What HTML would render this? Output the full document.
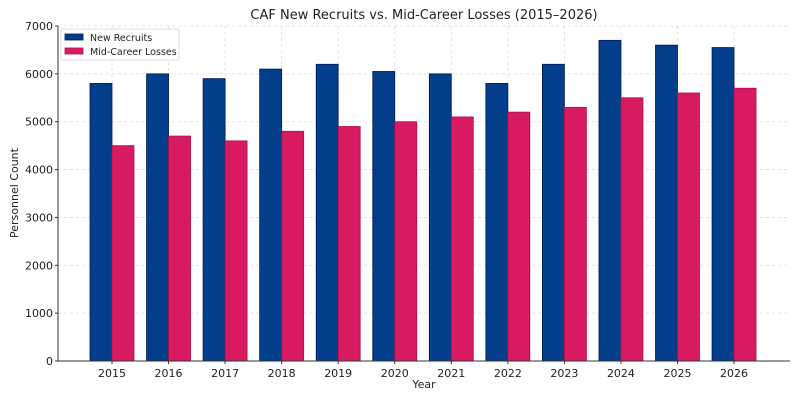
<!DOCTYPE html>
<html><head><meta charset="utf-8"><style>
body{margin:0;background:#fff;font-family:"DejaVu Sans","Liberation Sans",sans-serif}
svg text{font-family:"DejaVu Sans","Liberation Sans",sans-serif;fill:#222}
</style></head><body>
<svg id="c" width="800" height="400"></svg>
<script>
const years=["2015","2016","2017","2018","2019","2020","2021","2022","2023","2024","2025","2026"];
const recruits=[5800,6000,5900,6100,6200,6050,6000,5800,6200,6700,6600,6550];
const losses=[4500,4700,4600,4800,4900,5000,5100,5200,5300,5500,5600,5700];
const yTicks=[0,1000,2000,3000,4000,5000,6000,7000];
const NS="http://www.w3.org/2000/svg";
const svg=document.getElementById('c');
const L=58,R=790,T=26,B=361,x0=112,step=56.55,bw=22;
const y=v=>B-(v/7000)*(B-T);
const x=i=>x0+i*step;
function mk(t,a,p){const e=document.createElementNS(NS,t);for(const k in a)e.setAttribute(k,a[k]);(p||svg).appendChild(e);return e;}
const g=mk('g',{});
yTicks.forEach(v=>{if(v>0)mk('line',{x1:L,x2:R,y1:y(v),y2:y(v),stroke:'#ddd','stroke-dasharray':'3,3','stroke-width':0.8},g);});
years.forEach((yr,i)=>mk('line',{x1:x(i),x2:x(i),y1:T,y2:B,stroke:'#ddd','stroke-dasharray':'3,3','stroke-width':0.8},g));
years.forEach((yr,i)=>{
 const a=mk('rect',{x:x(i)-bw,y:y(recruits[i]),width:bw,height:B-y(recruits[i]),fill:'#023e8a',stroke:'#001a5c','stroke-width':0.8});
 
 
 const b=mk('rect',{x:x(i),y:y(losses[i]),width:bw,height:B-y(losses[i]),fill:'#d81b60',stroke:'#b0104a','stroke-width':0.8});
 
 
 const t=mk('text',{x:x(i),y:B+16,'text-anchor':'middle','font-size':11});t.textContent=yr;
 
 
 mk('line',{x1:x(i),x2:x(i),y1:B,y2:B+3,stroke:'#333'});
});
yTicks.forEach(v=>{
 mk('line',{x1:L-3,x2:L,y1:y(v),y2:y(v),stroke:'#333'});
 const t=mk('text',{x:L-5,y:y(v)+4,'text-anchor':'end','font-size':11});t.textContent=v;
 
 
});
mk('line',{x1:L,x2:L,y1:T,y2:B,stroke:'#333'});
mk('line',{x1:L,x2:R,y1:B,y2:B,stroke:'#333'});
</script>
<svg width="800" height="400" style="position:absolute;left:0;top:0">
<text x="424" y="19" text-anchor="middle" font-size="13">CAF New Recruits vs. Mid-Career Losses (2015–2026)</text>
<text x="424" y="388" text-anchor="middle" font-size="11">Year</text>
<text x="0" y="0" transform="translate(18,193) rotate(-90)" text-anchor="middle" font-size="11">Personnel Count</text>
<g>
<rect x="61" y="29" width="118" height="31" fill="#fff" fill-opacity="0.85" stroke="#ddd" rx="2"/>
<rect x="65" y="34" width="18" height="6" fill="#023e8a" stroke="#001a5c" stroke-width="0.8"/>
<text x="90" y="41" font-size="9.5" fill="#333">New Recruits</text>
<rect x="65" y="48" width="18" height="6" fill="#d81b60" stroke="#b0104a" stroke-width="0.8"/>
<text x="90" y="55" font-size="9.5" fill="#333">Mid-Career Losses</text>
</g>
</svg>
</body></html>
